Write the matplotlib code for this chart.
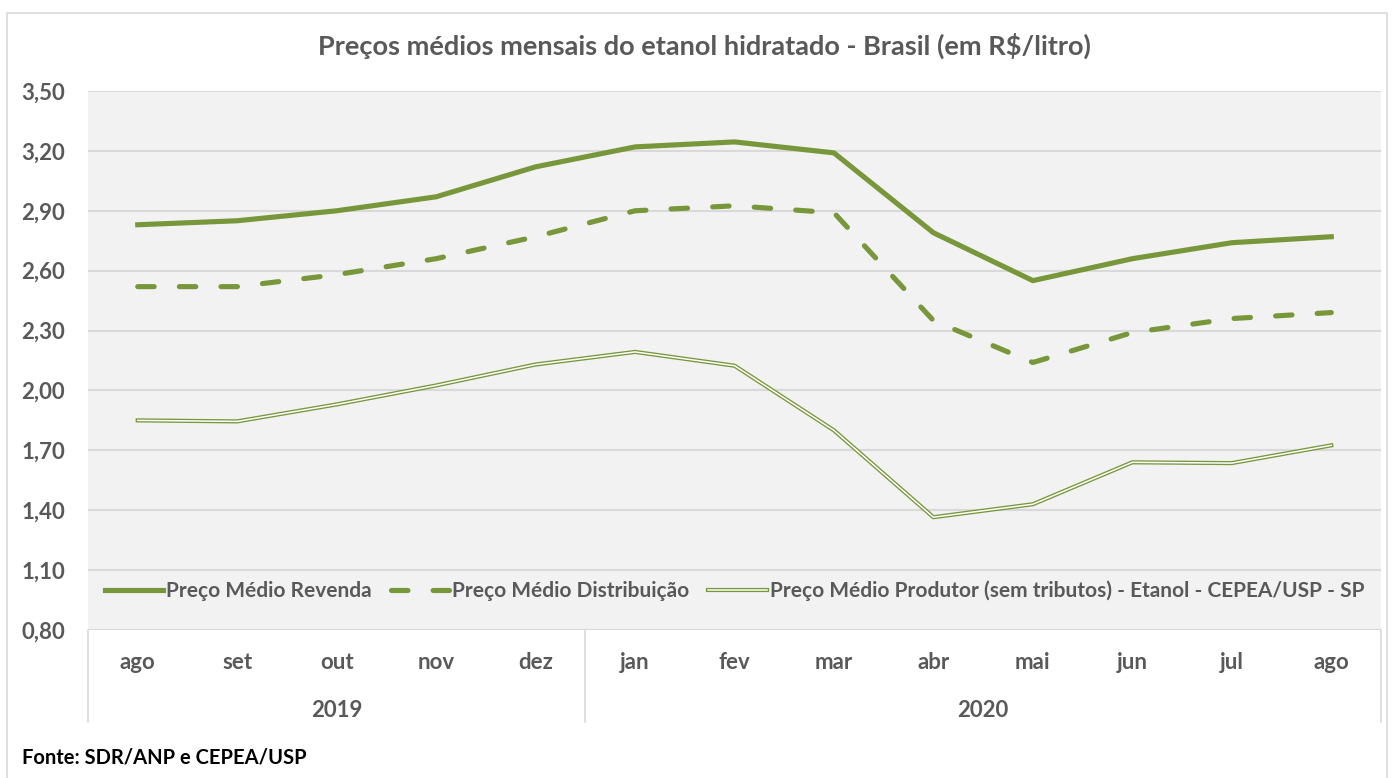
import matplotlib
matplotlib.use('Agg')
import matplotlib.pyplot as plt
from matplotlib.lines import Line2D
from matplotlib.patches import Rectangle
from matplotlib.legend_handler import HandlerTuple

plt.rcParams['font.family'] = ['Lato', 'DejaVu Sans']

# Data (R$/litro)
months = ['ago', 'set', 'out', 'nov', 'dez', 'jan', 'fev', 'mar', 'abr', 'mai', 'jun', 'jul', 'ago']
years = ['2019', '2020']
year_sizes = [5, 8]
revenda = [2.83, 2.85, 2.90, 2.97, 3.12, 3.22, 3.245, 3.19, 2.79, 2.55, 2.66, 2.74, 2.77]
distribuicao = [2.52, 2.52, 2.58, 2.66, 2.77, 2.90, 2.925, 2.89, 2.35, 2.14, 2.29, 2.36, 2.39]
produtor = [1.85, 1.845, 1.93, 2.025, 2.13, 2.193, 2.124, 1.80, 1.365, 1.43, 1.64, 1.636, 1.725]
yticks = [0.80, 1.10, 1.40, 1.70, 2.00, 2.30, 2.60, 2.90, 3.20, 3.50]

green = '#77973A'
text_gray = '#595959'
grid_gray = '#D9D9D9'

fig = plt.figure(figsize=(13.94, 7.78), dpi=100)
W, H = 1394, 778
ax = fig.add_axes([88 / W, 1 - 630 / H, (1381 - 88) / W, (630 - 91) / H])
ax.set_facecolor('#F2F2F2')

# outer chart border
fig.patches.append(Rectangle((7 / W, -0.01), (1387 - 7) / W, 1 - 13 / H + 0.01,
                             transform=fig.transFigure, fill=False,
                             edgecolor=grid_gray, linewidth=1.2))

x = list(range(len(months)))
ax.plot(x, revenda, color=green, lw=3.7, solid_joinstyle='round', zorder=3)
ax.plot(x, distribuicao, color=green, lw=3.7, linestyle=(0, (3.2, 4.9)),
        dash_capstyle='round', zorder=3)
ax.plot(x, produtor, color=green, lw=3.0, zorder=3)
ax.plot(x, produtor, color='white', lw=1.1, zorder=4)

ax.set_xlim(-0.5, len(months) - 0.5)
ax.set_ylim(0.80, 3.50)
ax.set_yticks(yticks)
ax.set_yticklabels([f'{v:.2f}'.replace('.', ',') for v in yticks],
                   fontsize=16, fontweight='bold', color=text_gray)
ax.tick_params(axis='y', length=0, pad=16.5)
ax.set_xticks([])
ax.grid(axis='y', color=grid_gray, lw=1.5)
ax.set_axisbelow(True)
for s in ax.spines.values():
    s.set_visible(False)

# category labels (months and years) below the plot
for i, m in enumerate(months):
    ax.text(i, -0.061, m, transform=ax.get_xaxis_transform(), ha='center', va='center',
            fontsize=16, fontweight='bold', color=text_gray)
start = 0
bounds = [-0.5]
for yr, n in zip(years, year_sizes):
    ax.text(start + (n - 1) / 2, -0.15, yr, transform=ax.get_xaxis_transform(),
            ha='center', va='center', fontsize=16, fontweight='bold', color=text_gray)
    start += n
    bounds.append(start - 0.5)
for b in bounds:
    ax.plot([b, b], [0, -0.171], transform=ax.get_xaxis_transform(), color=grid_gray,
            lw=1.2, clip_on=False)

# legend
h1 = Line2D([], [], color=green, lw=3.7)
h2 = Line2D([], [], color=green, lw=3.7, linestyle=(0, (3.2, 4.9)), dash_capstyle='round')
h3 = (Line2D([], [], color=green, lw=3.0), Line2D([], [], color='white', lw=1.1))
ax.legend([h1, h2, h3],
          ['Preço Médio Revenda', 'Preço Médio Distribuição',
           'Preço Médio Produtor (sem tributos) - Etanol - CEPEA/USP - SP'],
          handler_map={tuple: HandlerTuple(ndivide=1, pad=0)},
          loc='center', bbox_to_anchor=(0.5, 0.073), ncol=3, frameon=False,
          handlelength=2.8, handletextpad=0.15, columnspacing=0.9,
          prop={'size': 15, 'weight': 'bold'}, labelcolor=text_gray)

fig.text(704 / W, 1 - 46 / H, 'Preços médios mensais do etanol hidratado - Brasil (em R$/litro)',
         ha='center', va='center', fontsize=19.5, fontweight='bold', color=text_gray)
fig.text(22 / W, 1 - 757 / H, 'Fonte: SDR/ANP e CEPEA/USP', ha='left', va='center',
         fontsize=14.5, fontweight='bold', color='black')

fig.savefig('out.png', dpi=100)
